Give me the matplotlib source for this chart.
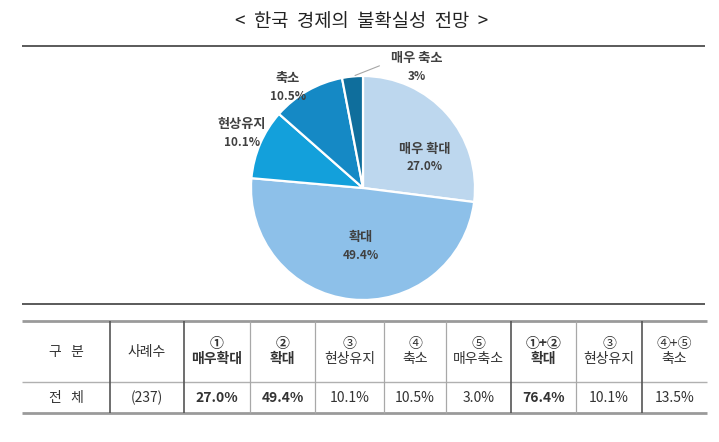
import numpy as np
import matplotlib
matplotlib.use('Agg')
import matplotlib.pyplot as plt

plt.rcParams['font.family'] = ['Noto Sans CJK KR', 'DejaVu Sans']

# pie data
labels = ['매우 확대', '확대', '현상유지', '축소', '매우 축소']
values = [27.0, 49.4, 10.1, 10.5, 3.0]
value_text = ['27.0%', '49.4%', '10.1%', '10.5%', '3%']
colors = ['#BDD7EE', '#8DC0E9', '#13A0DB', '#1589C5', '#0F6E9C']

# table data
head = ['구   분', '사례수', '①\n매우확대', '②\n확대', '③\n현상유지', '④\n축소',
        '⑤\n매우축소', '①+②\n확대', '③\n현상유지', '④+⑤\n축소']
row = ['전   체', '(237)', '27.0%', '49.4%', '10.1%', '10.5%', '3.0%', '76.4%', '10.1%', '13.5%']
bold_cols = [2, 3, 7]
col_w = [88, 74, 66, 65, 69, 62, 65, 65, 66, 65]

W, H = 719, 442
fig = plt.figure(figsize=(W / 100, H / 100), dpi=100)
fig.patch.set_facecolor('white')

ax0 = fig.add_axes([0, 0, 1, 1])
ax0.set_xlim(0, W)
ax0.set_ylim(H, 0)
ax0.axis('off')

ax0.text(362, 22, '<  한국  경제의  불확실성  전망  >', ha='center', va='center',
         fontsize=13.5, color='#222222')
ax0.hlines([45.5, 304], 22, 705, color='#5a5a5a', lw=1.4)

# pie
axp = fig.add_axes([251 / W, (H - 300) / H, 224 / W, 224 / H])
wedges, _ = axp.pie(values, colors=colors, startangle=90, counterclock=False,
                    wedgeprops=dict(edgecolor='white', linewidth=1.6))
axp.set_xlim(-1, 1)
axp.set_ylim(-1, 1)
axp.set_aspect('equal')

lab_pos = [(0.55, 0.27), (-0.02, -0.52), (-1.08, 0.49), (-0.67, 0.90), (0.48, 1.08)]
for i, (x, y) in enumerate(lab_pos):
    axp.text(x, y + 0.08, labels[i], ha='center', va='center', fontsize=9.5,
             fontweight='bold', color='#404040', clip_on=False)
    axp.text(x, y - 0.08, value_text[i], ha='center', va='center', fontsize=8.5,
             fontweight='bold', color='#404040', clip_on=False)

# leader line for the smallest slice
mid = np.deg2rad(90 - values[4] / 2 * 3.6 + 360 - sum(values[:4]) * 3.6)
axp.annotate('', xy=(np.cos(mid), np.sin(mid)), xytext=(0.17, 1.1),
             arrowprops=dict(arrowstyle='-', color='#A6A6A6', lw=0.8),
             annotation_clip=False)

# table
tab = ax0.table(cellText=[head, row], colWidths=col_w, cellLoc='center',
                bbox=[22 / W, (H - 413) / H, sum(col_w) / W, 92 / H])
tab.auto_set_font_size(False)
for (r, c), cell in tab.get_celld().items():
    cell.visible_edges = ''
    cell.set_height(2 if r == 0 else 1)
    cell.set_facecolor('#F2F2F2' if r == 0 else 'white')
    txt = cell.get_text()
    txt.set_fontsize(10 if r == 0 else 10)
    txt.set_color('#333333')
    txt.set_linespacing(1.1)
    if c in bold_cols:
        txt.set_fontweight('bold')

edges = 22 + np.cumsum([0] + col_w)
ax0.hlines([321, 413], edges[0], edges[-1], color='#9a9a9a', lw=2)
ax0.hlines(382, edges[0], edges[-1], color='#b0b0b0', lw=1)
dark = [1, 2, 7, 9]
for k in range(1, len(col_w)):
    ax0.vlines(edges[k], 321, 413, color='#555555' if k in dark else '#a8a8a8',
               lw=1.2 if k in dark else 0.9)

fig.savefig('out.png', dpi=100, facecolor='white')
